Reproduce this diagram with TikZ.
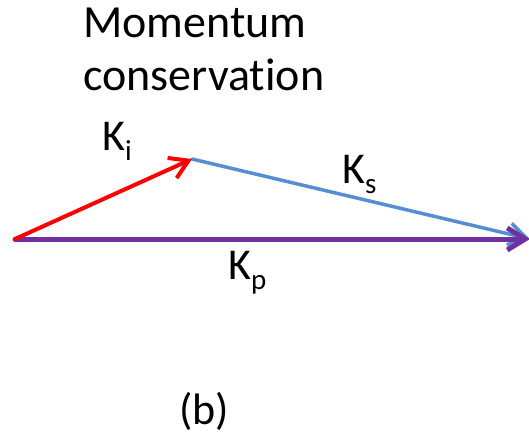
\documentclass[tikz,border=0pt]{standalone}
\usepackage{fontspec}
\setmainfont{Carlito}[Ligatures=NoCommon]
\usetikzlibrary{arrows.meta}
\definecolor{kiRed}{RGB}{255,0,0}
\definecolor{ksBlue}{RGB}{85,142,213}
\definecolor{kpPurple}{RGB}{112,48,160}
\newcommand{\vsub}[1]{\raisebox{-10pt}{\fontsize{29}{29}\selectfont #1}}
\begin{document}
\begin{tikzpicture}[x=1pt, y=-1pt, font=\fontsize{44}{53}\selectfont,
      >={Straight Barb[length=18pt,width=22pt]},
      lbl/.style={inner sep=0pt, anchor=base west},
      vec/.style={->, line cap=round},
      ki/.style={vec, draw=kiRed, line width=4pt},
      ks/.style={vec, draw=ksBlue, line width=3.5pt},
      kp/.style={vec, draw=kpPurple, line width=5pt}]
    \useasboundingbox (0,0) rectangle (529,436);
    \node[lbl, align=left, font=\fontsize{46}{53}\selectfont] (title) at (83,90) {Momentum\\conservation};
    \coordinate (o) at (15,239);
    \coordinate (a) at (192,159);
    \coordinate (e) at (530,239);
    \draw[ks] (a) -- (e);
    \draw[kp] (o) -- (e);
    \draw[ki] (o) -- (a);
    \node[lbl] (lki) at (102,150) {K\vsub{i}};
    \node[lbl] (lks) at (342,183) {K\vsub{s}};
    \node[lbl] (lkp) at (228,279) {K\vsub{p}};
    \node[anchor=base, inner sep=0pt] (cap) at (204,424) {(b)};
  \end{tikzpicture}
\end{document}
